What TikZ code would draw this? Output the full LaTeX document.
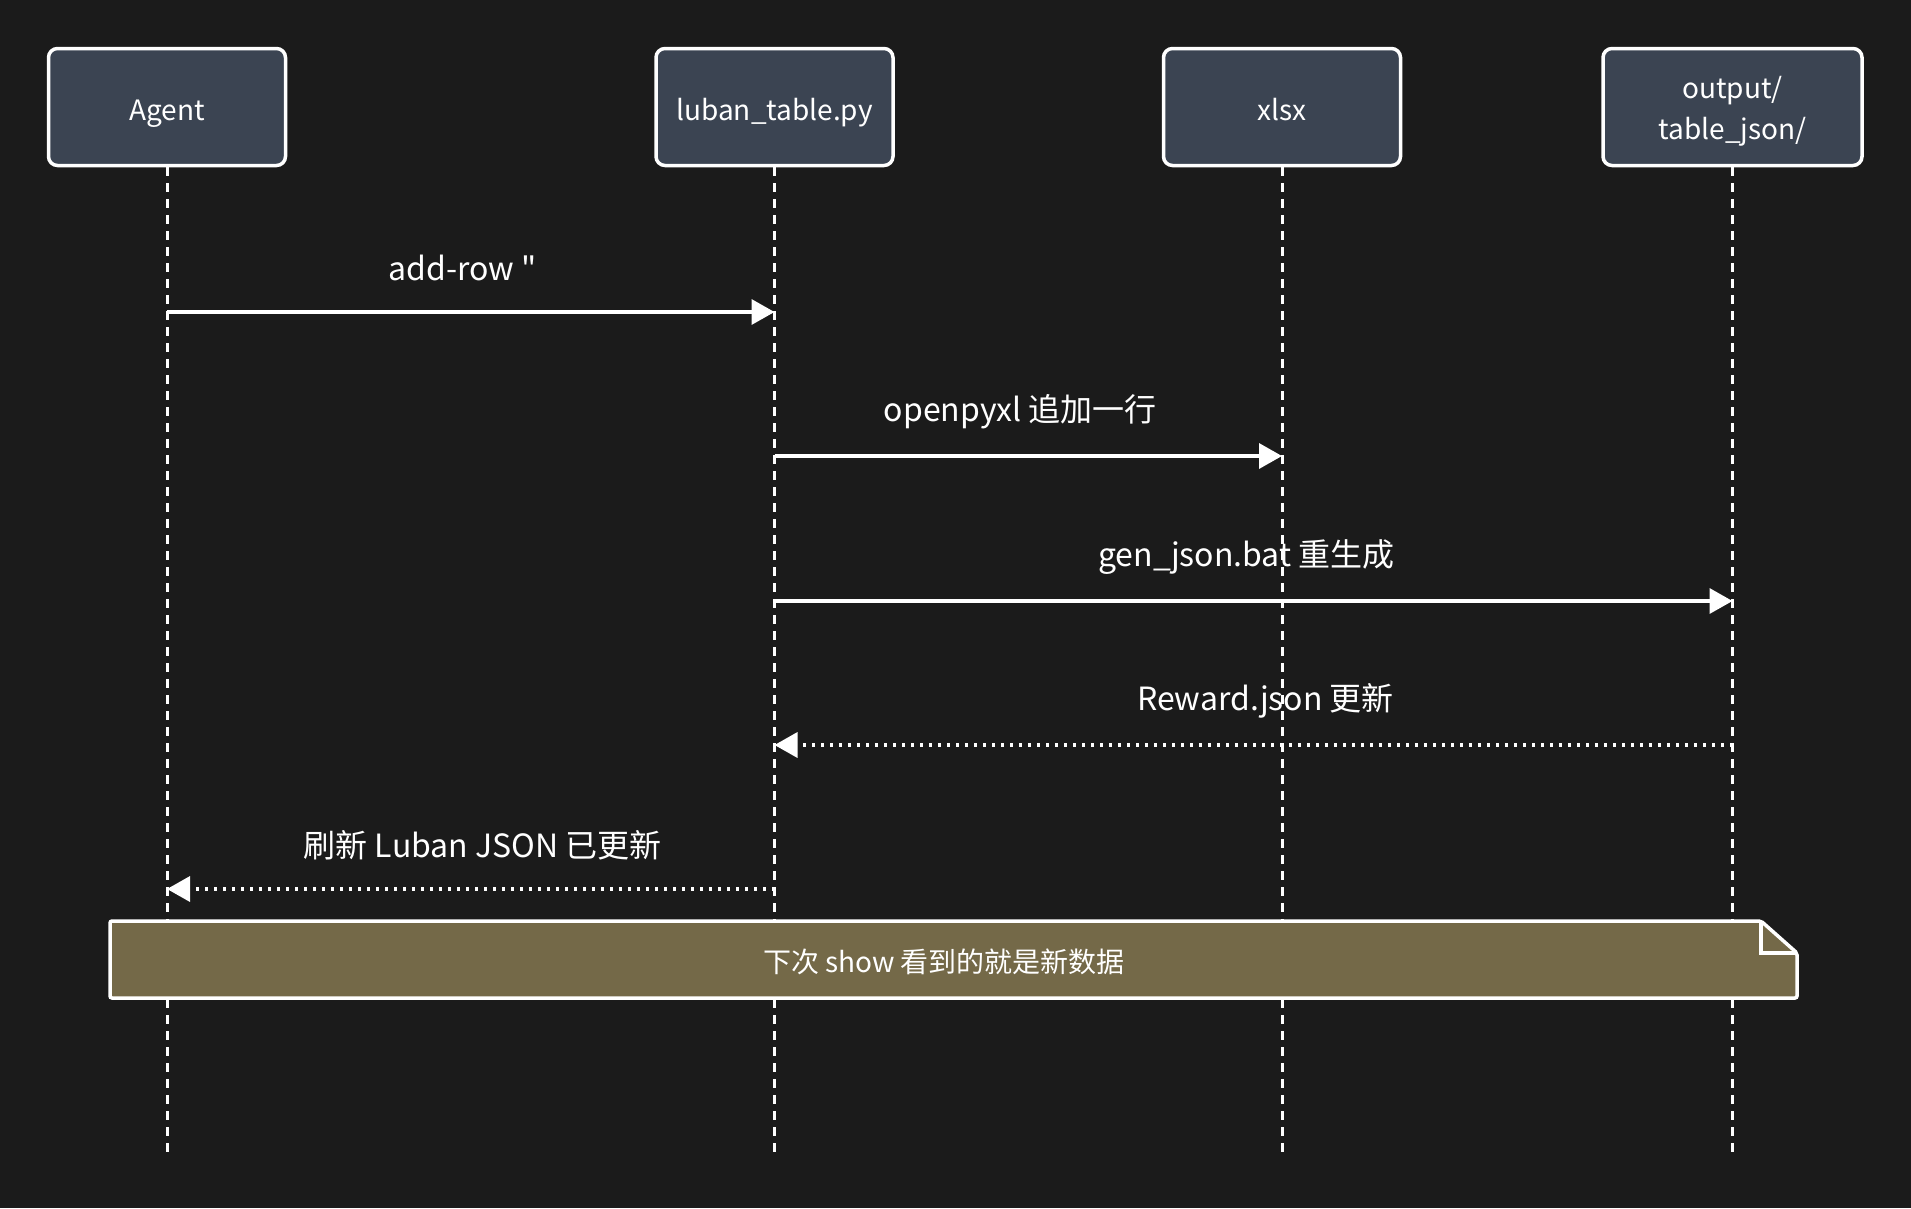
\documentclass[tikz,border=0pt]{standalone}
\usepackage{fontspec}
\setmainfont{Noto Sans CJK SC}[Ligatures=TeXOff]
\usetikzlibrary{positioning, arrows.meta}
\definecolor{bgdark}{HTML}{1B1B1B}
\definecolor{actorfill}{HTML}{3B4452}
\definecolor{notefill}{HTML}{746948}

\begin{document}
\begin{tikzpicture}[x=1pt, y=-1pt,
    actor/.style={draw=white, line width=3.5pt, fill=actorfill, rounded corners=9pt,
      minimum width=237pt, minimum height=117pt, text=white, align=center,
      text height=27pt, text depth=0pt, font=\fontsize{28}{41}\selectfont},
    lifeline/.style={white, line width=3pt, dash pattern=on 9pt off 7pt},
    msg/.style={white, line width=3.5pt, -{Triangle[length=23pt,width=25pt]}},
    reply/.style={msg, dash pattern=on 3pt off 6pt},
    msglabel/.style={text=white, midway, yshift=44pt, font=\fontsize{32}{38}\selectfont},
    notetext/.style={text=white, font=\fontsize{28}{32}\selectfont}]
        \fill[bgdark] (0,0) rectangle (1911,1208);
        % actors
        \node[actor] (agent) at (167,107) {Agent};
        \node[actor, right=367pt of agent] (luban) {luban\_table.py};
        \node[actor, right=267pt of luban] (xlsx) {xlsx};
        \node[actor, right=199pt of xlsx, minimum width=259pt, text height=65pt] (output) {output/\\table\_json/};
        % lifelines
        \coordinate (agentend) at (agent |- 0,1158);
        \coordinate (lubanend) at (luban |- 0,1158);
        \coordinate (xlsxend) at (xlsx |- 0,1158);
        \coordinate (outputend) at (output |- 0,1158);
        \draw[lifeline] (agent) -- (agentend);
        \draw[lifeline] (luban) -- (lubanend);
        \draw[lifeline] (xlsx) -- (xlsxend);
        \draw[lifeline] (output) -- (outputend);
        % messages
        \coordinate (m1a) at (agent |- 0,312);
        \coordinate (m1b) at (luban |- 0,312);
        \draw[msg] (m1a) -- node[msglabel, xshift=-8pt] {add-row "} (m1b);
        \coordinate (m2a) at (luban |- 0,456);
        \coordinate (m2b) at (xlsx |- 0,456);
        \draw[msg] (m2a) -- node[msglabel, xshift=-8pt] {openpyxl 追加一行} (m2b);
        \coordinate (m3a) at (luban |- 0,601);
        \coordinate (m3b) at (output |- 0,601);
        \draw[msg] (m3a) -- node[msglabel, xshift=-7pt] {gen\_json.bat 重生成} (m3b);
        \coordinate (m4a) at (output |- 0,745);
        \coordinate (m4b) at (luban |- 0,745);
        \draw[reply] (m4a) -- node[msglabel, xshift=12pt] {Reward.json 更新} (m4b);
        \coordinate (m5a) at (luban |- 0,889);
        \coordinate (m5b) at (agent |- 0,889);
        \draw[reply] (m5a) -- node[msglabel, xshift=12pt] {刷新 Luban JSON 已更新} (m5b);
        % note
        \draw[white, line width=3.5pt, fill=notefill, rounded corners=2pt]
          (110,921) -- (1761,921) -- (1797,953) -- (1797,998) -- (110,998) -- cycle;
        \draw[white, line width=3.5pt] (1761,921) -- (1761,953) -- (1797,953);
        \node[notetext] (note) at (944,962) {下次 show 看到的就是新数据};
      \end{tikzpicture}
\end{document}
